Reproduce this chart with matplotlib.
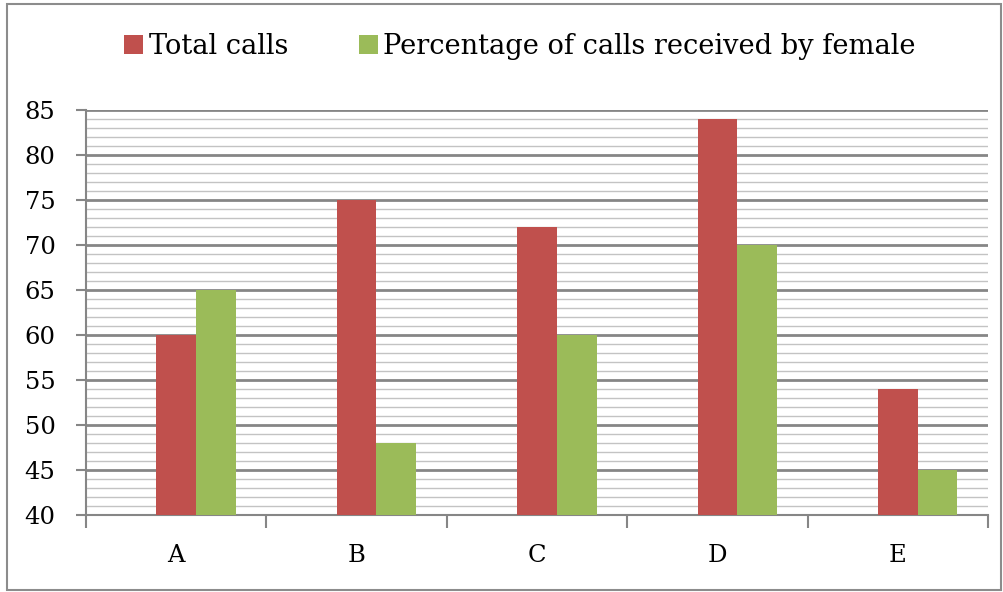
import matplotlib.pyplot as plt
import numpy as np
from matplotlib.patches import Rectangle
from matplotlib.ticker import MultipleLocator

# data
categories = ["A", "B", "C", "D", "E"]
total_calls = [60, 75, 72, 84, 54]
female_pct = [65, 48, 60, 70, 45]

plt.rcParams['font.family'] = ['DejaVu Serif']

fig = plt.figure(figsize=(10.04, 5.92), dpi=100)
ax = fig.add_axes([0.0857, 0.130, 0.8983, 0.684])

x = np.arange(len(categories))
w = 0.22
ax.bar(x, total_calls, width=w, color='#C0504D', label='Total calls', zorder=3)
ax.bar(x + w, female_pct, width=w, color='#9BBB59',
       label='Percentage of calls received by female', zorder=3)

ax.set_ylim(40, 85)
ax.set_xlim(-0.5, len(categories) - 0.5)
ax.yaxis.set_major_locator(MultipleLocator(5))
ax.yaxis.set_minor_locator(MultipleLocator(1))
ax.grid(axis='y', which='minor', color='#C3C3C3', linewidth=1.0, zorder=0)
ax.grid(axis='y', which='major', color='#868686', linewidth=2.0, zorder=1)
ax.tick_params(axis='y', which='minor', length=0)
ax.tick_params(axis='y', which='major', length=7, width=1.5, color='#868686',
               labelsize=17.5, pad=15)

# category labels centred, ticks at boundaries
ax.set_xticks(x)
ax.set_xticklabels(categories, fontsize=17.5)
ax.tick_params(axis='x', which='major', length=0, pad=21)
ax.set_xticks(np.arange(-0.5, len(categories)), minor=True)
ax.tick_params(axis='x', which='minor', length=9, width=1.5, color='#868686')

for s in ['top', 'right']:
    ax.spines[s].set_visible(False)
for s in ['left', 'bottom']:
    ax.spines[s].set_color('#868686')
    ax.spines[s].set_linewidth(1.5)

fig.legend(loc='center', bbox_to_anchor=(0.518, 0.922), ncol=2, frameon=False,
           fontsize=19.6, handlelength=0.7, handleheight=0.7, handletextpad=0.2,
           columnspacing=2.6)

# outer frame
fig.patches.append(Rectangle((0.007, 0.003), 0.99, 0.99, transform=fig.transFigure,
                             fill=False, edgecolor='#8C8C8C', linewidth=1.5))

plt.savefig('out.png', dpi=100)
